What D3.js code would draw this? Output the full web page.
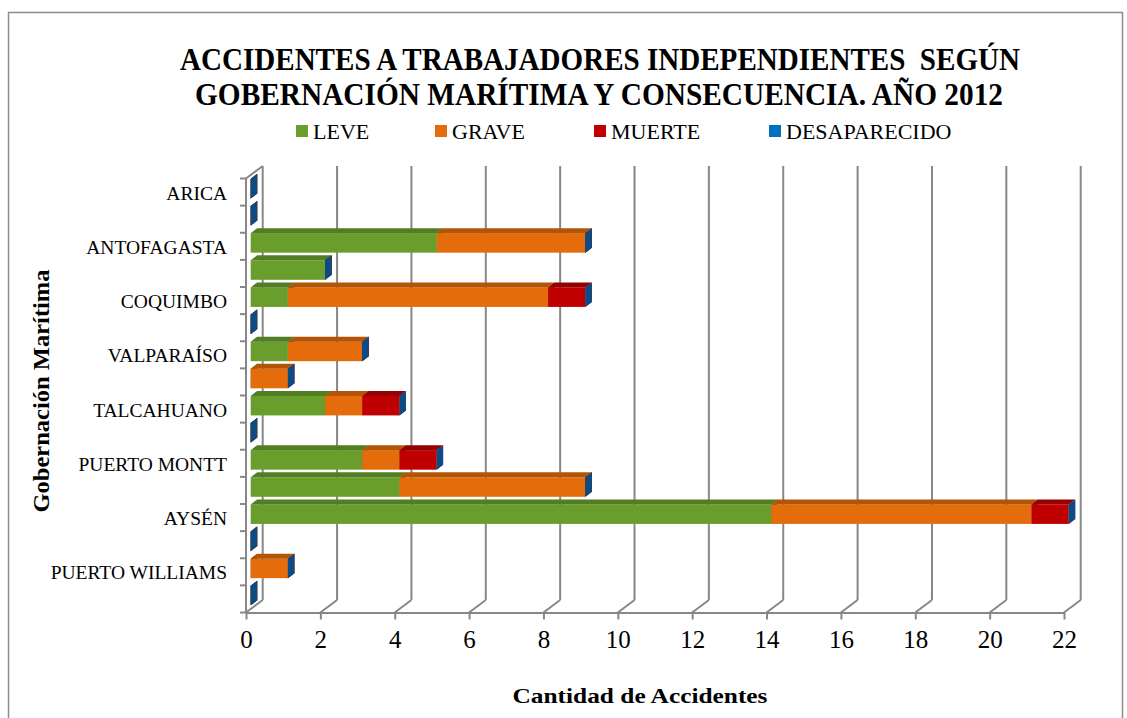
<!DOCTYPE html>
<html>
<head>
<meta charset="utf-8">
<script src="https://cdn.jsdelivr.net/npm/d3@7"></script>
<style>
  body { margin: 0; background: #fff; }
  text { font-family: "Liberation Serif", "Times New Roman", serif; fill: #000; }
</style>
</head>
<body>
<div id="chart-area"></div>
<script>
var categories = ["ARICA", "IQUIQUE", "ANTOFAGASTA", "CALDERA", "COQUIMBO", "QUINTERO",
  "VALPARAÍSO", "SAN ANTONIO", "TALCAHUANO", "VALDIVIA", "PUERTO MONTT", "CASTRO",
  "AYSÉN", "PUNTA ARENAS", "PUERTO WILLIAMS", "ISLA DE PASCUA"];
var seriesNames = ["LEVE", "GRAVE", "MUERTE", "DESAPARECIDO"];
var leve =         [0, 0, 5, 2, 1, 0, 1, 0, 2, 0, 3, 4, 14, 0, 0, 0];
var grave =        [0, 0, 4, 0, 7, 0, 2, 1, 1, 0, 1, 5, 7, 0, 1, 0];
var muerte =       [0, 0, 0, 0, 1, 0, 0, 0, 1, 0, 1, 0, 1, 0, 0, 0];
var desaparecido = [0, 0, 0, 0, 0, 0, 0, 0, 0, 0, 0, 0, 0, 0, 0, 0];
var xTicks = [0, 2, 4, 6, 8, 10, 12, 14, 16, 18, 20, 22];

var frontColor = { LEVE: "#6a9e2c", GRAVE: "#e46c0a", MUERTE: "#c00000", DESAPARECIDO: "#0070c0" };
var topColor = { LEVE: "#537d22", GRAVE: "#b35507", MUERTE: "#960000", DESAPARECIDO: "#0a5a9c" };
var sideColor = { LEVE: "#4b7020", GRAVE: "#a04c06", MUERTE: "#870000", DESAPARECIDO: "#0b4c86" };

var svg = d3.select("#chart-area")
  .append("svg")
  .attr("width", 1127)
  .attr("height", 718);

// outer border
svg.append("rect")
  .attr("x", 8.5).attr("y", 12.5)
  .attr("width", 1114).attr("height", 740)
  .attr("fill", "none")
  .attr("stroke", "#8c8c8c")
  .attr("stroke-width", 1.5);

var table = categories.map(function(c, i) {
  return { cat: c, LEVE: leve[i], GRAVE: grave[i], MUERTE: muerte[i], DESAPARECIDO: desaparecido[i] };
});

var x = d3.scaleLinear().domain([0, 22]).range([246, 1064]);
var y = d3.scaleBand().domain(categories).range([178.5, 612.5])
  .paddingInner(0.28).paddingOuter(0.14);
var yCell = d3.scaleBand().domain(categories).range([178.5, 612.5]);

var depth = { dx: 16.7, dy: -12.5 };   // full wall depth
var barShift = { dx: 4.7, dy: -3.4 };  // where the bars sit inside the depth
var barDepth = { dx: 6.5, dy: -5 };

var yTop = 178.5, yBottom = 612.5;
var gridColor = "#878787";

// back wall grid lines
svg.append("g")
  .selectAll("line")
  .data(xTicks)
  .enter()
  .append("line")
  .attr("x1", d => x(d) + depth.dx).attr("x2", d => x(d) + depth.dx)
  .attr("y1", yTop + depth.dy).attr("y2", yBottom + depth.dy)
  .attr("stroke", gridColor).attr("stroke-width", 2);

// floor diagonals
svg.append("g")
  .selectAll("line")
  .data(xTicks)
  .enter()
  .append("line")
  .attr("x1", d => x(d)).attr("x2", d => x(d) + depth.dx)
  .attr("y1", yBottom).attr("y2", yBottom + depth.dy)
  .attr("stroke", gridColor).attr("stroke-width", 2);

// left wall
var wall = svg.append("g")
  .attr("stroke", gridColor).attr("stroke-width", 2).attr("fill", "none");
wall.append("path")
  .attr("d", "M" + x(0) + "," + yBottom + "V" + yTop +
    "L" + (x(0) + depth.dx) + "," + (yTop + depth.dy));

// x axis
var xAxis = d3.axisBottom(x)
  .tickValues(xTicks)
  .tickSize(7)
  .tickPadding(11)
  .tickSizeOuter(0);

var xAxisGroup = svg.append("g")
  .attr("transform", "translate(0," + yBottom + ")")
  .call(xAxis);
xAxisGroup.select(".domain").attr("stroke", gridColor).attr("stroke-width", 2);
xAxisGroup.selectAll(".tick line").attr("stroke", gridColor).attr("stroke-width", 2);
xAxisGroup.selectAll(".tick text")
  .attr("font-size", "25px")
  .attr("font-family", "Liberation Serif, serif")
  .attr("fill", "#000");

// category ticks on the left wall
var bounds = categories.map(c => yCell(c)).concat([yBottom]);
svg.append("g")
  .selectAll("line")
  .data(bounds)
  .enter()
  .append("line")
  .attr("x1", x(0) - 6).attr("x2", x(0))
  .attr("y1", d => d).attr("y2", d => d)
  .attr("stroke", gridColor).attr("stroke-width", 2);

// category labels (every second one, like the original)
svg.append("g")
  .selectAll("text")
  .data(categories.filter((c, i) => i % 2 === 0))
  .enter()
  .append("text")
  .attr("x", 227)
  .attr("y", d => yCell(d) + yCell.bandwidth() / 2 + 7.5)
  .attr("text-anchor", "end")
  .attr("font-size", "19.5px")
  .text(d => d);

// stacked 3D bars
var stack = d3.stack().keys(seriesNames);
var stacked = stack(table);

var bars = svg.append("g");
table.forEach(function(row, i) {
  stacked.forEach(function(layer) {
    var key = layer.key;
    var seg = layer[i];
    var x0 = x(seg[0]) + barShift.dx;
    var x1 = x(seg[1]) + barShift.dx;
    var y0 = y(row.cat) + barShift.dy;
    var y1 = y0 + y.bandwidth();
    var ddx = barDepth.dx, ddy = barDepth.dy;

    if (x1 > x0) {
      bars.append("rect")
        .attr("x", x0).attr("y", y0)
        .attr("width", x1 - x0).attr("height", y1 - y0)
        .attr("fill", frontColor[key]);
      bars.append("path")
        .attr("d", "M" + x0 + "," + y0 + "L" + (x0 + ddx) + "," + (y0 + ddy) +
          "L" + (x1 + ddx) + "," + (y0 + ddy) + "L" + x1 + "," + y0 + "Z")
        .attr("fill", topColor[key]);
    }
    bars.append("path")
      .attr("d", "M" + x1 + "," + y0 + "L" + (x1 + ddx) + "," + (y0 + ddy) +
        "L" + (x1 + ddx) + "," + (y1 + ddy) + "L" + x1 + "," + y1 + "Z")
      .attr("fill", sideColor[key]);
  });
});

// title
svg.append("text")
  .attr("x", 600).attr("y", 70)
  .attr("text-anchor", "middle")
  .attr("font-size", "31px").attr("font-weight", "bold")
  .attr("textLength", 840).attr("lengthAdjust", "spacingAndGlyphs")
  .text("ACCIDENTES A TRABAJADORES INDEPENDIENTES \u00a0SEGÚN");
svg.append("text")
  .attr("x", 599).attr("y", 105)
  .attr("text-anchor", "middle")
  .attr("font-size", "31px").attr("font-weight", "bold")
  .attr("textLength", 808).attr("lengthAdjust", "spacingAndGlyphs")
  .text("GOBERNACIÓN MARÍTIMA Y CONSECUENCIA. AÑO 2012");

// legend
var legendX = [296, 435, 594, 769];
var legend = svg.selectAll(".legend")
  .data(seriesNames)
  .enter()
  .append("g")
  .attr("class", "legend")
  .attr("transform", (d, i) => "translate(" + legendX[i] + ",125)");

legend.append("rect")
  .attr("width", 12).attr("height", 12)
  .attr("fill", d => frontColor[d]);

legend.append("text")
  .attr("x", 17).attr("y", 14)
  .attr("font-size", "22px")
  .text(d => d);

// axis titles
svg.append("text")
  .attr("x", 640).attr("y", 703)
  .attr("text-anchor", "middle")
  .attr("font-size", "22px").attr("font-weight", "bold")
  .attr("textLength", 255).attr("lengthAdjust", "spacingAndGlyphs")
  .text("Cantidad de Accidentes");

svg.append("text")
  .attr("transform", "translate(49,391) rotate(-90)")
  .attr("text-anchor", "middle")
  .attr("font-size", "23px").attr("font-weight", "bold")
  .attr("textLength", 243).attr("lengthAdjust", "spacingAndGlyphs")
  .text("Gobernación Marítima");
</script>
</body>
</html>
